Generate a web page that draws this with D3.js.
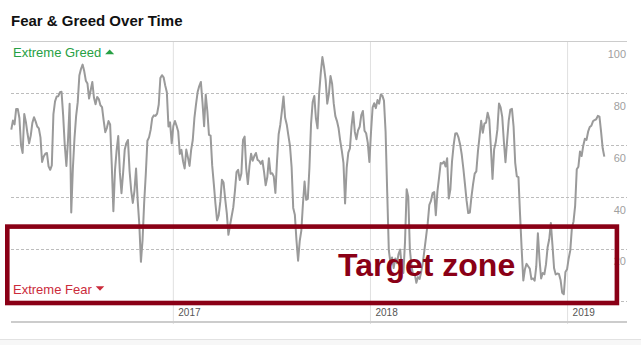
<!DOCTYPE html>
<html>
<head>
<meta charset="utf-8">
<script src="https://cdn.jsdelivr.net/npm/d3@7"></script>
<style>
  body { margin: 0; background: #fff; }
  svg { display: block; font-family: "Liberation Sans", Arial, sans-serif; }
</style>
</head>
<body>
<div id="chart"></div>
<script>
'use strict';

// data: one reading every 3 days, starting 2016-03-07
var startDate = new Date(2016, 2, 7),
    stepDays = 3;

var values = [
  66, 69.5, 68, 74, 74, 70.5, 60, 57, 72, 69,
  64.5, 60.7, 63.7, 68.6, 70.8, 69.2, 67.2, 66.5, 63, 53.5,
  55.6, 56.7, 57, 51.8, 50.5, 52.2, 72, 76.9, 78.8, 78.9,
  80.4, 80.6, 71.6, 60, 52, 62, 76, 34, 51, 62.7,
  71.2, 76.6, 86.9, 89.4, 91.1, 88.6, 84.9, 83.8, 78, 81.2,
  84.4, 78.4, 75.8, 78.6, 77.8, 75.4, 74.7, 69.6, 65, 66.7,
  69.3, 68, 52.5, 34.5, 50.4, 58, 63.5, 49.6, 41.5, 49.2,
  58.2, 60.8, 62, 50, 42.5, 37.7, 42.4, 51, 38.7, 29.5,
  15, 23.3, 37.8, 48.8, 61.7, 63, 65.9, 70.5, 71.5, 71.3,
  72.2, 75.7, 85.9, 87, 86.2, 83, 80.4, 67.2, 68.8, 60.7,
  67.4, 69.3, 67.5, 65.3, 56.6, 58.2, 53.8, 51, 58.3, 55.3,
  52, 58.2, 62, 70.4, 75.7, 80.5, 82.8, 84.4, 76.5, 67.3,
  79.5, 73.1, 64, 63.7, 52.1, 45, 37.4, 31, 32.9, 38.3,
  46.7, 45.6, 39.3, 33.8, 25.4, 29.1, 32.6, 36, 42.2, 49.6,
  50.5, 46.6, 49.1, 62, 63.3, 51, 45, 52, 56.7, 54,
  55.8, 57, 54.3, 53.9, 52.8, 54, 49.7, 44.5, 47.7, 55,
  49, 49.2, 47.9, 41.6, 54, 64.2, 67.8, 73.1, 78.8, 70.6,
  68, 63.8, 59.7, 51.6, 35.8, 33.2, 23.3, 15.4, 23, 27,
  37.4, 46, 38.9, 39.3, 51.3, 68.2, 76.7, 79, 70.4, 66.5,
  80, 87.9, 94, 90.2, 85.2, 76, 79.7, 86.7, 83.7, 76.1,
  71.2, 69.3, 66.5, 61.7, 57.8, 53.2, 37.5, 51.3, 57.1, 58.8,
  67.4, 72.8, 65.2, 62.3, 65.7, 67.1, 71.6, 73.2, 65.6, 64.6,
  61, 53.5, 65, 74.6, 76.2, 74.3, 77.4, 76, 79.5, 79.1,
  77.2, 65.3, 42, 19.4, 14.8, 16.7, 12.6, 16.3, 14.5, 18,
  19.7, 13.2, 10.7, 22.7, 43, 40, 19.7, 13.3, 10, 10.4,
  6.9, 9.1, 8.4, 11.2, 14.7, 19.6, 24.7, 29.8, 37, 38.5,
  41.5, 41.9, 33, 42.2, 47.5, 53.1, 52.9, 53.7, 51.8, 55,
  39.4, 43, 53.7, 60, 64.5, 64.6, 63, 60.3, 56.4, 51,
  44.9, 38.6, 33.8, 34, 40.1, 45, 49, 49.9, 57.6, 63.4,
  69.4, 64.8, 68.3, 68.7, 72.5, 70, 59, 47, 58.4, 61.1,
  66, 76.1, 74.6, 70.9, 61.5, 53.4, 61.6, 69.5, 73.7, 74,
  67.2, 53.2, 48, 47.7, 33.2, 19.8, 7.8, 12.1, 14.2, 13.3,
  12.4, 8.3, 8.6, 7.7, 13.2, 26, 16, 8.6, 10.7, 10.2,
  14, 20.6, 23.7, 30, 21.4, 12.5, 10.1, 10.5, 10.3, 8,
  3.1, 2.5, 11.1, 12.1, 16.3, 19.4, 28.2, 30.6, 36.7, 50.7,
  51.7, 57.6, 55.8, 59.8, 62.5, 62, 65.2, 67, 67.5, 69.2,
  69.7, 70, 71.3, 71, 65.2, 58.8, 55.6
];

var yTicks = [20, 40, 60, 80, 100];
var gridValues = [0, 20, 40, 60, 80];
var yearTicks = [2017, 2018, 2019];

(function () {

  var series = values.map(function (v, i) {
    return { date: d3.timeDay.offset(startDate, i * stepDays), value: v };
  });

  // constants
  var width = 641,
      height = 345,
      plotLeft = 11,
      plotRight = 627,
      plotTop = 41.5,
      plotBottom = 300.7,
      axisY = 322;

  var x = d3.scaleTime()
    .domain([startDate, new Date(2019, 3, 21)])
    .range([plotLeft + 0.3, plotRight]);

  var y = d3.scaleLinear()
    .domain([0, 100])
    .range([plotBottom, plotTop]);

  var svg = d3.select('#chart').append('svg')
    .attr('width', width)
    .attr('height', height);

  // title
  svg.append('text')
    .attr('x', plotLeft)
    .attr('y', 26)
    .attr('font-size', 15)
    .attr('font-weight', 'bold')
    .attr('fill', '#111')
    .text('Fear & Greed Over Time');

  // footer band
  svg.append('rect')
    .attr('x', 0).attr('y', 339)
    .attr('width', width).attr('height', height - 339)
    .attr('fill', '#f7f7f7');
  svg.append('line')
    .attr('x1', 0).attr('x2', width)
    .attr('y1', 339.5).attr('y2', 339.5)
    .attr('stroke', '#e2e2e2');

  // Grid
  // ====

  svg.selectAll('line.vgrid')
    .data(yearTicks)
    .enter().append('line')
    .attr('class', 'vgrid')
    .attr('x1', function (d) { return x(new Date(d, 0, 1)); })
    .attr('x2', function (d) { return x(new Date(d, 0, 1)); })
    .attr('y1', plotTop)
    .attr('y2', axisY + 2)
    .attr('stroke', '#e0e0e0')
    .attr('stroke-width', 1);

  svg.selectAll('line.hgrid')
    .data(gridValues)
    .enter().append('line')
    .attr('class', 'hgrid')
    .attr('x1', plotLeft)
    .attr('x2', plotRight)
    .attr('y1', function (d) { return Math.round(y(d)) + 0.5; })
    .attr('y2', function (d) { return Math.round(y(d)) + 0.5; })
    .attr('stroke', '#bdbdbd')
    .attr('stroke-dasharray', '3,2');

  // top rule (100) and bottom axis rule
  svg.append('line')
    .attr('x1', plotLeft).attr('x2', plotRight)
    .attr('y1', y(100)).attr('y2', y(100))
    .attr('stroke', '#cccccc').attr('stroke-width', 1.2);

  svg.append('line')
    .attr('x1', plotLeft).attr('x2', plotRight)
    .attr('y1', axisY).attr('y2', axisY)
    .attr('stroke', '#cccccc').attr('stroke-width', 2);

  // y labels, sitting under their grid lines on the right
  svg.selectAll('text.ylab')
    .data(yTicks)
    .enter().append('text')
    .attr('class', 'ylab')
    .attr('x', plotRight - 1)
    .attr('y', function (d) { return y(d) + 16.5; })
    .attr('text-anchor', 'end')
    .attr('font-size', 11)
    .attr('fill', '#a0a0a0')
    .text(function (d) { return d; });

  // year labels
  svg.selectAll('text.xlab')
    .data(yearTicks)
    .enter().append('text')
    .attr('class', 'xlab')
    .attr('x', function (d) { return x(new Date(d, 0, 1)) + 5; })
    .attr('y', 316)
    .attr('font-size', 10)
    .attr('fill', '#555')
    .text(function (d) { return d; });

  // Line
  // ====

  var line = d3.line()
    .x(function (d) { return x(d.date); })
    .y(function (d) { return y(d.value); });

  svg.append('path')
    .datum(series)
    .attr('d', line)
    .attr('fill', 'none')
    .attr('stroke', '#9a9a9a')
    .attr('stroke-width', 2)
    .attr('stroke-linejoin', 'round');

  // Extreme labels
  // ====

  function marker(label, color, baseline, up) {
    var t = svg.append('text')
      .attr('x', plotLeft + 2)
      .attr('y', baseline)
      .attr('font-size', 13)
      .attr('fill', color)
      .text(label);
    var x0 = plotLeft + 2 + t.node().getComputedTextLength() + 4,
        cy = baseline - 5;
    var pts = up
      ? [[x0, cy + 2.2], [x0 + 9, cy + 2.2], [x0 + 4.5, cy - 2.5]]
      : [[x0, cy - 2.2], [x0 + 8.5, cy - 2.2], [x0 + 4.25, cy + 2.3]];
    svg.append('path')
      .attr('d', 'M' + pts.join('L') + 'Z')
      .attr('fill', color);
  }

  marker('Extreme Greed', '#27a044', 57, true);
  marker('Extreme Fear', '#cb2b3b', 293.5, false);

  // Target zone annotation
  // ====

  svg.append('rect')
    .attr('x', 7.3)
    .attr('y', 226.6)
    .attr('width', 609.6)
    .attr('height', 76.4)
    .attr('fill', 'none')
    .attr('stroke', '#8a0016')
    .attr('stroke-width', 4.6);

  svg.append('text')
    .attr('x', 338)
    .attr('y', 276)
    .attr('font-size', 32)
    .attr('font-weight', 'bold')
    .attr('fill', '#8a0016')
    .text('Target zone');

})();
</script>
</body>
</html>
